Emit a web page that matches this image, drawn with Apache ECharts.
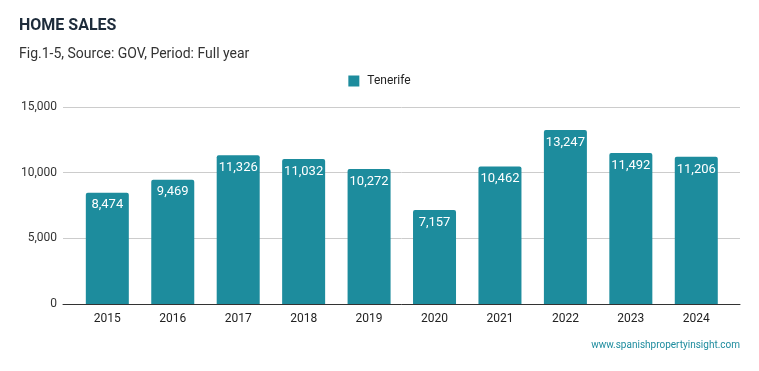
<!DOCTYPE html>
<html><head><meta charset="utf-8">
<script src="https://cdn.jsdelivr.net/npm/echarts@6/dist/echarts.min.js"></script>
<style>html,body{margin:0;padding:0;background:#fff}#c{width:759px;height:371px}</style>
</head><body><div id="c"></div>
<script>
const categories = ['2015','2016','2017','2018','2019','2020','2021','2022','2023','2024'];
const seriesName = 'Tenerife';
const values = [8474, 9469, 11326, 11032, 10272, 7157, 10462, 13247, 11492, 11206];
const yTicks = [0, 5000, 10000, 15000];

const fmt = v => v.toLocaleString('en-US');
const FONT = 'Roboto';
const chart = echarts.init(document.getElementById('c'), null, {renderer:'canvas'});
chart.setOption({
  animation: false,
  backgroundColor: '#fff',
  textStyle: {fontFamily: FONT},
  title: [
    {text: 'HOME SALES', left: 14, top: 13, textStyle: {fontFamily: FONT, fontSize: 16, fontWeight: 'bold', color: '#1d2b3a'}},
    {text: 'Fig.1-5, Source: GOV, Period: Full year', left: 14, top: 42, textStyle: {fontFamily: FONT, fontSize: 14, fontWeight: 'normal', color: '#333'}},
    {text: 'www.spanishpropertyinsight.com', right: 14, top: 335, textStyle: {fontFamily: FONT, fontSize: 10, fontWeight: 'normal', color: '#1e8c9e'}}
  ],
  legend: {
    data: [seriesName], left: 'center', top: 70, itemWidth: 11, itemHeight: 11, itemGap: 12,
    icon: 'rect', textStyle: {fontFamily: FONT, fontSize: 12, color: '#222', padding: [0,0,0,3]}
  },
  grid: [
    {left: 74.6, right: 30, top: 107, bottom: 67},
    {left: 63, right: 19, top: 107, bottom: 67}
  ],
  xAxis: [
    {gridIndex: 0, type: 'category', data: categories, axisLine: {show: false}, axisTick: {show: false},
     axisLabel: {fontFamily: FONT, fontSize: 12, color: '#222', margin: 9}},
    {gridIndex: 1, type: 'value', min: 0, max: 1, axisLine: {show: true, onZero: false, lineStyle: {color: '#333', width: 1}},
     axisTick: {show: false}, axisLabel: {show: false}, splitLine: {show: false}}
  ],
  yAxis: [
    {gridIndex: 0, type: 'value', min: 0, max: 15000, interval: 5000, show: false, splitLine: {show: false}},
    {gridIndex: 1, type: 'value', min: 0, max: 15000, interval: 5000,
     axisLine: {show: false}, axisTick: {show: false},
     axisLabel: {fontFamily: FONT, fontSize: 12, color: '#333', margin: 6, formatter: v => yTicks.includes(v) ? fmt(v) : ''},
     splitLine: {show: true, lineStyle: {color: '#ccc', width: 1}}}
  ],
  series: [{
    name: seriesName, type: 'bar', xAxisIndex: 0, yAxisIndex: 0, data: values,
    barWidth: 43, itemStyle: {color: '#1d8c9d', borderRadius: [2,2,0,0]},
    label: {show: true, position: 'insideTop', distance: 6, color: '#fff', fontFamily: FONT, fontSize: 13, formatter: p => fmt(p.value)}
  }]
});
</script></body></html>
